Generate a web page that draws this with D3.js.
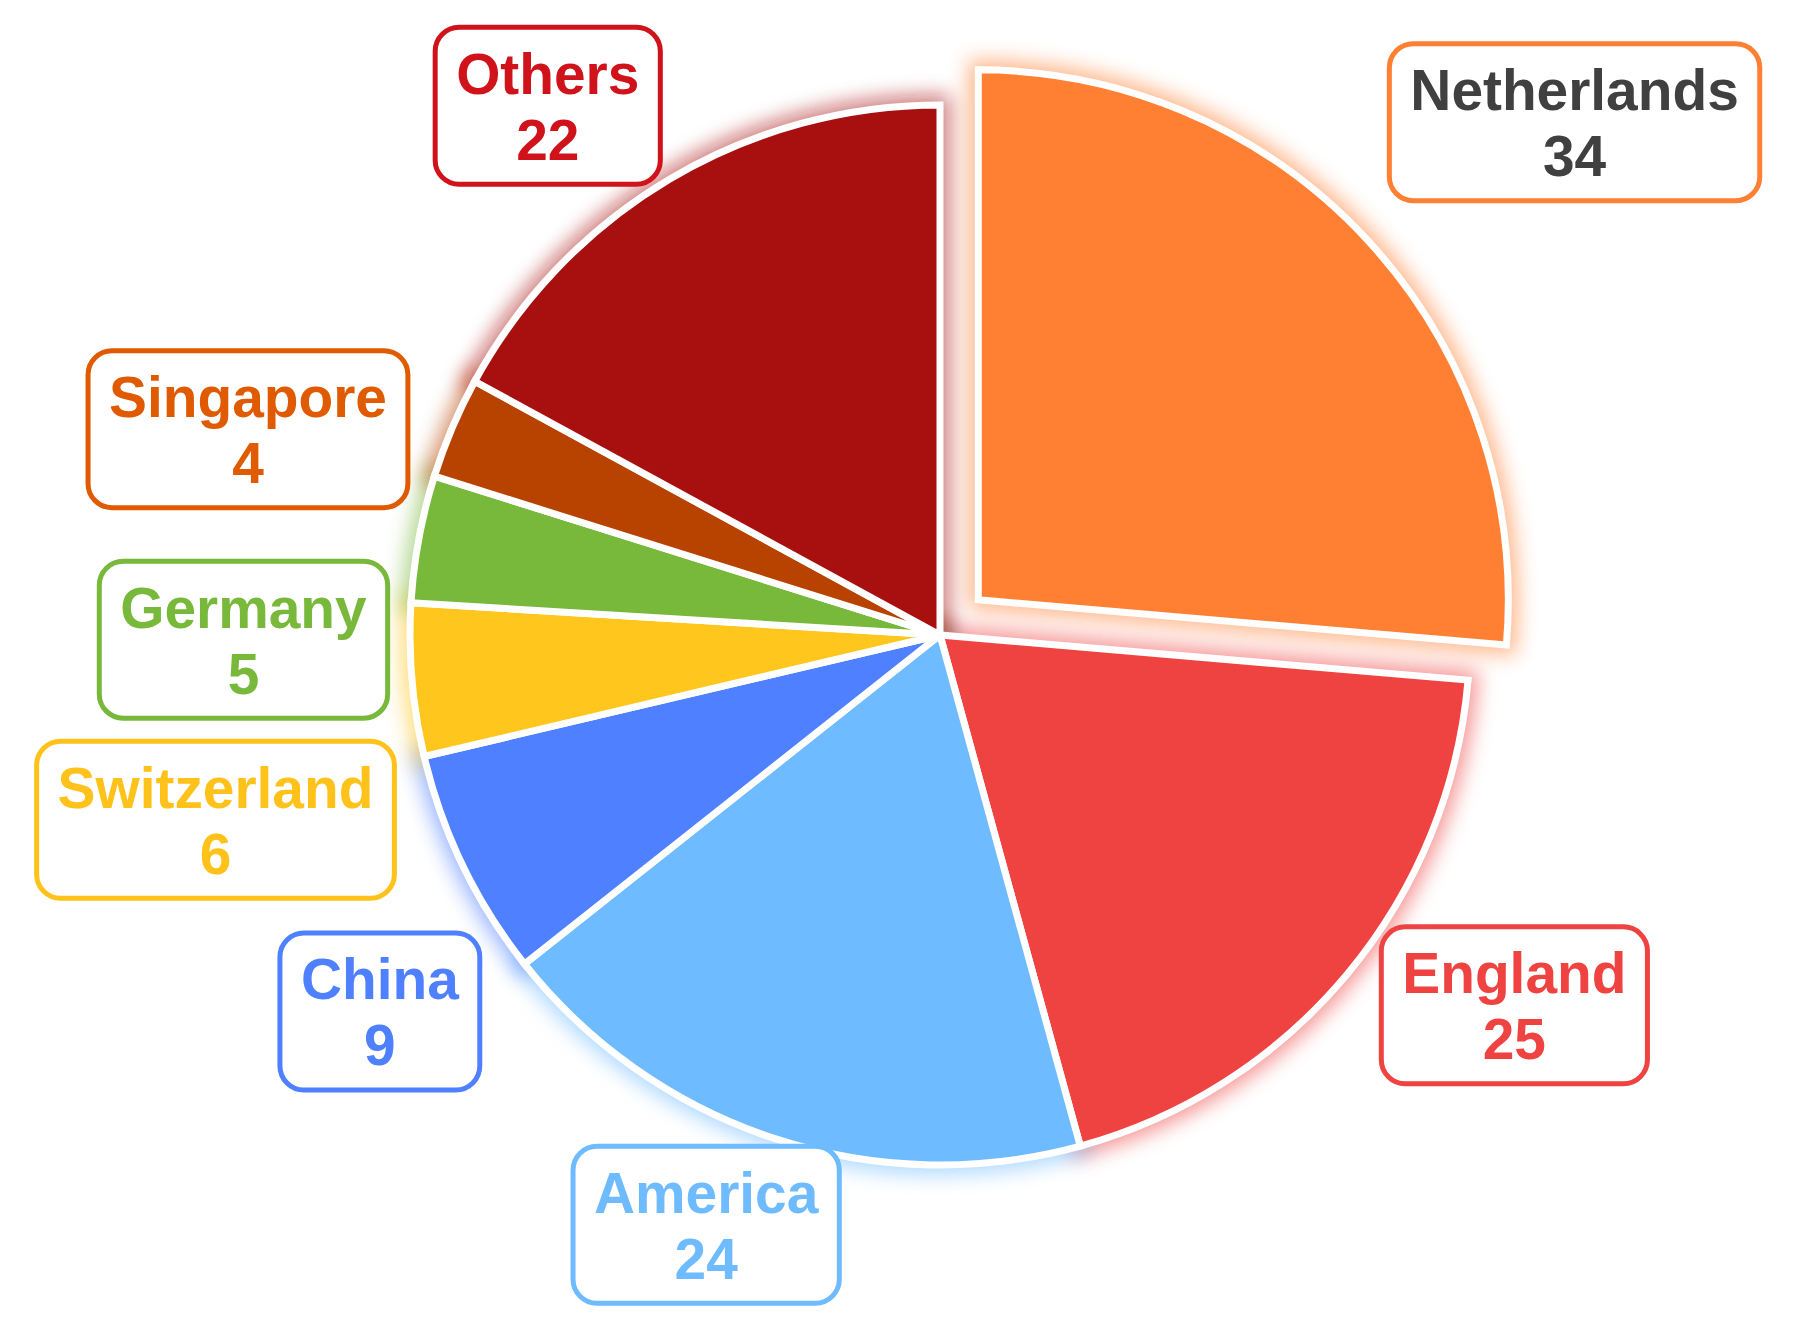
<!DOCTYPE html>
<html>
<head>
<meta charset="utf-8">
<script src="https://cdn.jsdelivr.net/npm/d3@7"></script>
<style>
  html, body { margin: 0; padding: 0; background: #fff; }
  svg { display: block; }
  .lbl-text { font-family: 'Liberation Sans', Arial, sans-serif; font-weight: 700; text-anchor: middle; }
</style>
</head>
<body>
<svg class="pie-svg"></svg>
<script>
// data
const countries = ['Netherlands', 'England', 'America', 'China', 'Switzerland', 'Germany', 'Singapore', 'Others']
const counts = [34, 25, 24, 9, 6, 5, 4, 22]

// styling
const sliceColors = ['#ff7f33', '#ee4340', '#6fbbff', '#4f80ff', '#ffc61e', '#78b83a', '#b84200', '#a81010']
const boxColors = ['#ff7f33', '#ee4340', '#6fbbff', '#4f80ff', '#ffc21a', '#78b83a', '#e05a00', '#d0131a']
const textColors = ['#404040', '#ee4340', '#6fbbff', '#4f80ff', '#ffc21a', '#78b83a', '#e05a00', '#d0131a']
const exploded = 'Netherlands'

// label nudges from the default spot on the label ring
const labelNudge = [[88, -11], [44, -71], [-19, -66], [61, 76], [-37, 126], [-18, 130], [-57, 64], [-40, 64]]

const width = 1799
const height = 1337
const cx = 940
const cy = 635
const radius = 530
const explodeOff = 52
const labelRing = 690
const fontSize = 58
const squeeze = 0.98
const boxH = 157

const drawPie = () => {

    const svg = d3.select('.pie-svg')
        .attr('width', width)
        .attr('height', height)

    const defs = svg.append('defs')
    defs.append('filter')
        .attr('id', 'glow')
        .attr('x', '-30%').attr('y', '-30%')
        .attr('width', '160%').attr('height', '160%')
        .append('feGaussianBlur')
        .attr('stdDeviation', 10)

    const rows = countries.map((c, i) => ({ name: c, value: counts[i], i }))

    const pie = d3.pie()
        .sort(null)
        .value(d => d.value)

    const arcs = pie(rows)

    const arcGen = d3.arc()
        .innerRadius(0)
        .outerRadius(radius)

    const mid = d => (d.startAngle + d.endAngle) / 2
    const shift = d => d.data.name === exploded ? explodeOff : 0
    const move = d => `translate(${Math.sin(mid(d)) * shift(d)}, ${-Math.cos(mid(d)) * shift(d)})`

    const g = svg.append('g')
        .attr('transform', `translate(${cx}, ${cy})`)

    // soft coloured glow behind each slice
    g.append('g')
        .selectAll('path')
        .data(arcs)
        .enter()
        .append('path')
        .attr('d', arcGen)
        .attr('transform', move)
        .attr('fill', d => sliceColors[d.data.i])
        .attr('stroke', d => sliceColors[d.data.i])
        .attr('stroke-width', 20)
        .attr('opacity', 0.55)
        .attr('filter', 'url(#glow)')

    g.append('g')
        .selectAll('path')
        .data(arcs)
        .enter()
        .append('path')
        .attr('d', arcGen)
        .attr('transform', move)
        .attr('fill', d => sliceColors[d.data.i])
        .attr('stroke', '#fff')
        .attr('stroke-width', 7)
        .attr('stroke-linejoin', 'miter')

    // boxed labels
    const labels = g.append('g')
        .selectAll('g')
        .data(arcs)
        .enter()
        .append('g')
        .attr('transform', d => {
            const a = mid(d)
            const r = labelRing + shift(d)
            const n = labelNudge[d.data.i]
            return `translate(${Math.sin(a) * r + n[0]}, ${-Math.cos(a) * r + n[1]})`
        })

    const rects = labels.append('rect')

    const txt = labels.append('text')
        .attr('class', 'lbl-text')
        .attr('transform', `scale(${squeeze}, 1)`)
        .style('font-size', fontSize + 'px')
        .attr('fill', d => textColors[d.data.i])

    txt.append('tspan')
        .attr('x', 0)
        .attr('y', -12)
        .text(d => d.data.name)

    txt.append('tspan')
        .attr('x', 0)
        .attr('y', 54)
        .text(d => d.data.value)

    rects.each(function (d) {
        const tw = this.parentNode.querySelector('tspan').getComputedTextLength() * squeeze
        const w = tw + 42
        d3.select(this)
            .attr('x', -w / 2)
            .attr('y', -boxH / 2)
            .attr('width', w)
            .attr('height', boxH)
            .attr('rx', 24)
            .attr('fill', '#fff')
            .attr('stroke', boxColors[d.data.i])
            .attr('stroke-width', 5)
    })
}

drawPie()
</script>
</body>
</html>
